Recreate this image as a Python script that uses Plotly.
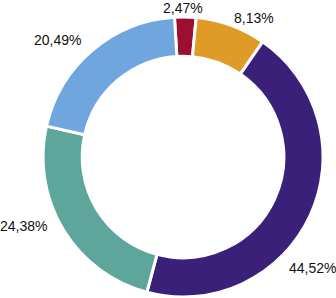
import plotly.graph_objects as go

labels = ["A", "B", "C", "D", "E"]
values = [2.47, 8.13, 44.52, 24.38, 20.49]
colors = ["#9C0F2F", "#E09B26", "#3A2078", "#5EA59B", "#6FA6DD"]

# label placement (pixel centres in the 336x298 figure) - styling only
W, H = 336, 298
label_pos = [(182.5, 7.5), (253.5, 17.5), (312, 268), (23, 225.5), (57.5, 40)]

fig = go.Figure(go.Pie(
    labels=labels,
    values=values,
    sort=False,
    direction="clockwise",
    rotation=-3.5,
    hole=0.72,
    marker=dict(colors=colors, line=dict(color="white", width=3)),
    textinfo="none",
    showlegend=False,
    hoverinfo="skip",
    domain=dict(x=[43 / W, 323 / W], y=[1 - 297 / H, 1 - 17 / H]),
))

for v, (px, py) in zip(values, label_pos):
    fig.add_annotation(
        x=px / W, y=1 - py / H, xref="paper", yref="paper",
        text=f"{v:.2f}".replace(".", ",") + "%",
        showarrow=False, xanchor="center", yanchor="middle",
        font=dict(family="Liberation Sans", size=14, color="#111111"),
    )

fig.update_layout(
    width=W, height=H,
    margin=dict(l=0, r=0, t=0, b=0),
    separators=",.",
    paper_bgcolor="white",
    plot_bgcolor="white",
)
fig.write_html(
    "out.html",
    config={"displayModeBar": False},
    post_script="document.body.style.margin='0';document.body.style.padding='0';document.body.style.overflow='hidden';",
)
